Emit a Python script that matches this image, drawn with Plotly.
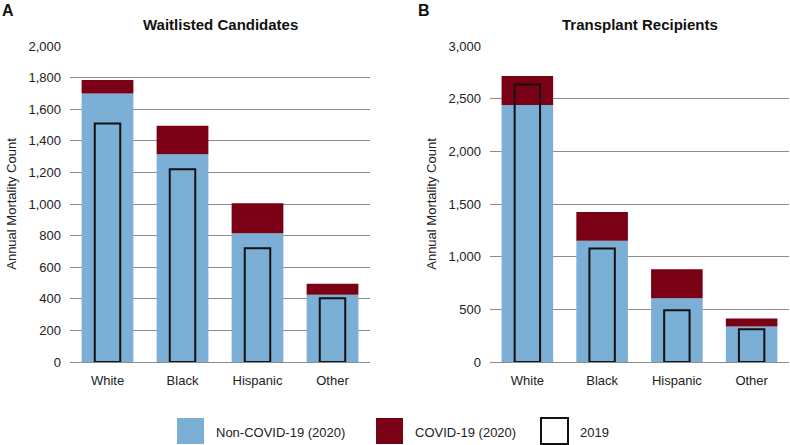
import plotly.graph_objects as go

categories = ["White", "Black", "Hispanic", "Other"]

# Panel A: Waitlisted Candidates
wl_noncovid_2020 = [1700, 1315, 815, 425]
wl_covid_2020 = [85, 180, 190, 70]
wl_2019 = [1510, 1220, 720, 403]

# Panel B: Transplant Recipients
tx_noncovid_2020 = [2440, 1150, 605, 336]
tx_covid_2020 = [275, 275, 275, 76]
tx_2019 = [2635, 1078, 491, 311]

BLUE = "#7BAFD6"
RED = "#7A0016"
GRID = "#8C8C8C"
FONT = "Liberation Sans, Arial, Helvetica, sans-serif"

fig = go.Figure()

def add_panel(noncovid, covid, prior, xa, ya):
    fig.add_trace(go.Bar(x=categories, y=noncovid, width=0.69, marker=dict(color=BLUE, line=dict(width=0)),
                         name="Non-COVID-19 (2020)", xaxis=xa, yaxis=ya, showlegend=False))
    fig.add_trace(go.Bar(x=categories, y=covid, base=noncovid, width=0.69, marker=dict(color=RED, line=dict(width=0)),
                         name="COVID-19 (2020)", xaxis=xa, yaxis=ya, showlegend=False))
    fig.add_trace(go.Bar(x=categories, y=prior, width=0.34,
                         marker=dict(color="rgba(0,0,0,0)", line=dict(color="#111111", width=2)),
                         name="2019", xaxis=xa, yaxis=ya, showlegend=False))

add_panel(wl_noncovid_2020, wl_covid_2020, wl_2019, "x", "y")
add_panel(tx_noncovid_2020, tx_covid_2020, tx_2019, "x2", "y2")

ydom = [0.1865, 0.8966]
common_y = dict(showgrid=True, gridcolor=GRID, gridwidth=1, zeroline=True, zerolinecolor=GRID,
                zerolinewidth=1, showline=False, tickformat=",", ticks="", automargin=False,
                ticklabelstandoff=8,
                tickfont=dict(size=13, color="#222222", family=FONT),
                title=dict(text="Annual Mortality Count", standoff=8,
                           font=dict(size=13, color="#222222", family=FONT)))
common_x = dict(showgrid=False, zeroline=False, showline=False, ticks="", automargin=False,
                ticklabelstandoff=9,
                tickfont=dict(size=13, color="#222222", family=FONT), range=[-0.5, 3.5])

fig.update_layout(
    width=790, height=445,
    margin=dict(l=0, r=0, t=0, b=0, pad=0, autoexpand=False),
    paper_bgcolor="white", plot_bgcolor="white",
    barmode="overlay",
    showlegend=False,
    font=dict(family=FONT, color="#222222"),
    xaxis=dict(domain=[70/790, 370/790], anchor="y", **common_x),
    yaxis=dict(domain=ydom, anchor="x", range=[0, 2000], dtick=200, **common_y),
    xaxis2=dict(domain=[490/790, 789/790], anchor="y2", **common_x),
    yaxis2=dict(domain=ydom, anchor="x2", range=[0, 3000], dtick=500, **common_y),
)

ann = [
    dict(text="<b>Waitlisted Candidates</b>", x=220/790, y=(445-24)/445, font=dict(size=15)),
    dict(text="<b>Transplant Recipients</b>", x=640/790, y=(445-24)/445, font=dict(size=15)),
    dict(text="<b>A</b>", x=8/790, y=(445-10)/445, font=dict(size=16)),
    dict(text="<b>B</b>", x=424/790, y=(445-10)/445, font=dict(size=16)),
]
for a in ann:
    fig.add_annotation(xref="paper", yref="paper", xanchor="center", yanchor="middle",
                       showarrow=False, text=a["text"], x=a["x"], y=a["y"],
                       font=dict(family=FONT, color="#111111", size=a["font"]["size"]))

# Legend drawn manually (large swatches)
legend_items = [
    ("Non-COVID-19 (2020)", BLUE, BLUE, 177),
    ("COVID-19 (2020)", RED, RED, 376),
    ("2019", "white", "#111111", 541),
]
y0, y1 = 418, 445
for label, fill, line, x0 in legend_items:
    fig.add_shape(type="rect", xref="paper", yref="paper",
                  x0=x0/790, x1=(x0+27)/790, y0=(445-y1+1)/445, y1=(445-y0)/445,
                  fillcolor=fill, line=dict(color=line, width=2 if fill == "white" else 0))
    fig.add_annotation(xref="paper", yref="paper", x=(x0+37)/790, y=(445-432)/445,
                       xanchor="left", yanchor="middle", showarrow=False, text=label,
                       font=dict(family=FONT, size=13, color="#222222"))

fig.write_html("out.html", config={"displayModeBar": False},
               post_script="document.body.style.margin='0px';document.body.style.overflow='hidden';")
